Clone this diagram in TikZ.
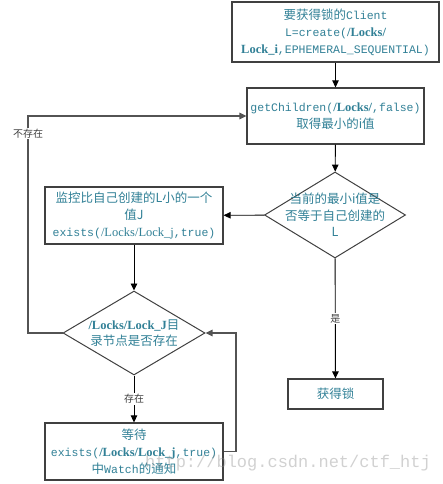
\documentclass[tikz,border=0pt]{standalone}
\usepackage{fontspec}
\setmainfont{Liberation Serif}
\newfontfamily\cjk{Noto Sans CJK SC}
\newfontfamily\monofont{Liberation Mono}
\usetikzlibrary{shapes.geometric,arrows.meta}
\definecolor{txtteal}{RGB}{49,128,150}
\definecolor{edgegray}{RGB}{64,64,64}
\newcommand{\cd}[1]{{\monofont\fontsize{11.5}{17}\selectfont #1}}
\newcommand{\bl}[1]{{\rmfamily\bfseries\fontsize{12.5}{17}\selectfont #1}}
\newcommand{\rl}[1]{{\rmfamily\fontsize{12.5}{17}\selectfont #1}}
\begin{document}
\begin{tikzpicture}[x=1pt, y=-1pt,
    box/.style={draw=edgegray, line width=1.2pt, text=txtteal, align=center, inner sep=0pt, font=\cjk\fontsize{12.5}{17}\selectfont},
    dia/.style={draw=edgegray, line width=1pt, diamond, inner sep=0pt},
    dtext/.style={text=txtteal, align=center, inner sep=0pt, font=\cjk\fontsize{12.5}{16.5}\selectfont},
    arr/.style={-{Triangle[length=7pt,width=6.5pt]}, line width=0.9pt},
    loopline/.style={draw=edgegray!90, line width=1.4pt},
    tag/.style={fill=white, inner sep=1pt, text=black!75, font=\cjk\fontsize{10}{12}\selectfont},
    stamp/.style={text=black!45, opacity=0.4, inner sep=0pt, font=\monofont\fontsize{17}{17}\selectfont}]
    \useasboundingbox (0,0) rectangle (443,484);
    % right column
    \node[box, minimum width=207pt, minimum height=60pt] (client) at (335.5,32) {要获得锁的\cd{Client}\\\cd{L=create(}\bl{/Locks/}\\\bl{Lock\_i}\cd{,EPHEMERAL\_SEQUENTIAL)}};
    \node[box, minimum width=177pt, minimum height=56pt] (children) at (335.5,116) {\cd{getChildren(}\bl{/Locks/}\cd{,false)}\\取得最小的i值};
    \node[dia, minimum width=141pt, minimum height=86pt] (isMin) at (335,215) {};
    \node[dtext] (isMinText) at (isMin.center) {当前的最小i值是\\否等于自己创建的\\L};
    \node[box, minimum width=95pt, minimum height=30pt] (lock) at (335.5,394) {获得锁};
    % left column
    \node[box, minimum width=178pt, minimum height=57pt] (watchPrev) at (134,215.5) {监控比自己创建的L小的一个\\值J\\\cd{exists(}\rl{/Locks/Lock\_j}\cd{,true)}};
    \node[dia, minimum width=142pt, minimum height=84pt] (exists) at (134,333) {};
    \node[dtext] (existsText) at (exists.center) {\bl{/Locks/Lock\_J}目\\录节点是否存在};
    \node[box, minimum width=178pt, minimum height=57pt] (wait) at (134,451.5) {等待\\\cd{exists(}\bl{/Locks/Lock\_j}\cd{,true)}\\中\cd{Watch}的通知};
    \coordinate (back) at (28,116);
    \coordinate (ret) at (236,451.5);
    % connectors
    \draw[arr] (client) -- (children);
    \draw[arr] (children) -- (isMin);
    \draw[arr] (isMin) -- (watchPrev);
    \draw[arr] (isMin) -- node[tag] {是} (lock);
    \draw[arr] (watchPrev) -- (exists);
    \draw[arr] (exists) -- node[tag] {存在} (wait);
    \draw[arr, loopline] (exists.west) -| node[tag, pos=0.96] {不存在} (back) -- (children.west);
    \draw[arr, loopline] (wait.east) -- (ret) |- (exists.east);
    \node[stamp] (url) at (288,463) {http://blog.csdn.net/ctf\_htj};
\end{tikzpicture}
\end{document}
